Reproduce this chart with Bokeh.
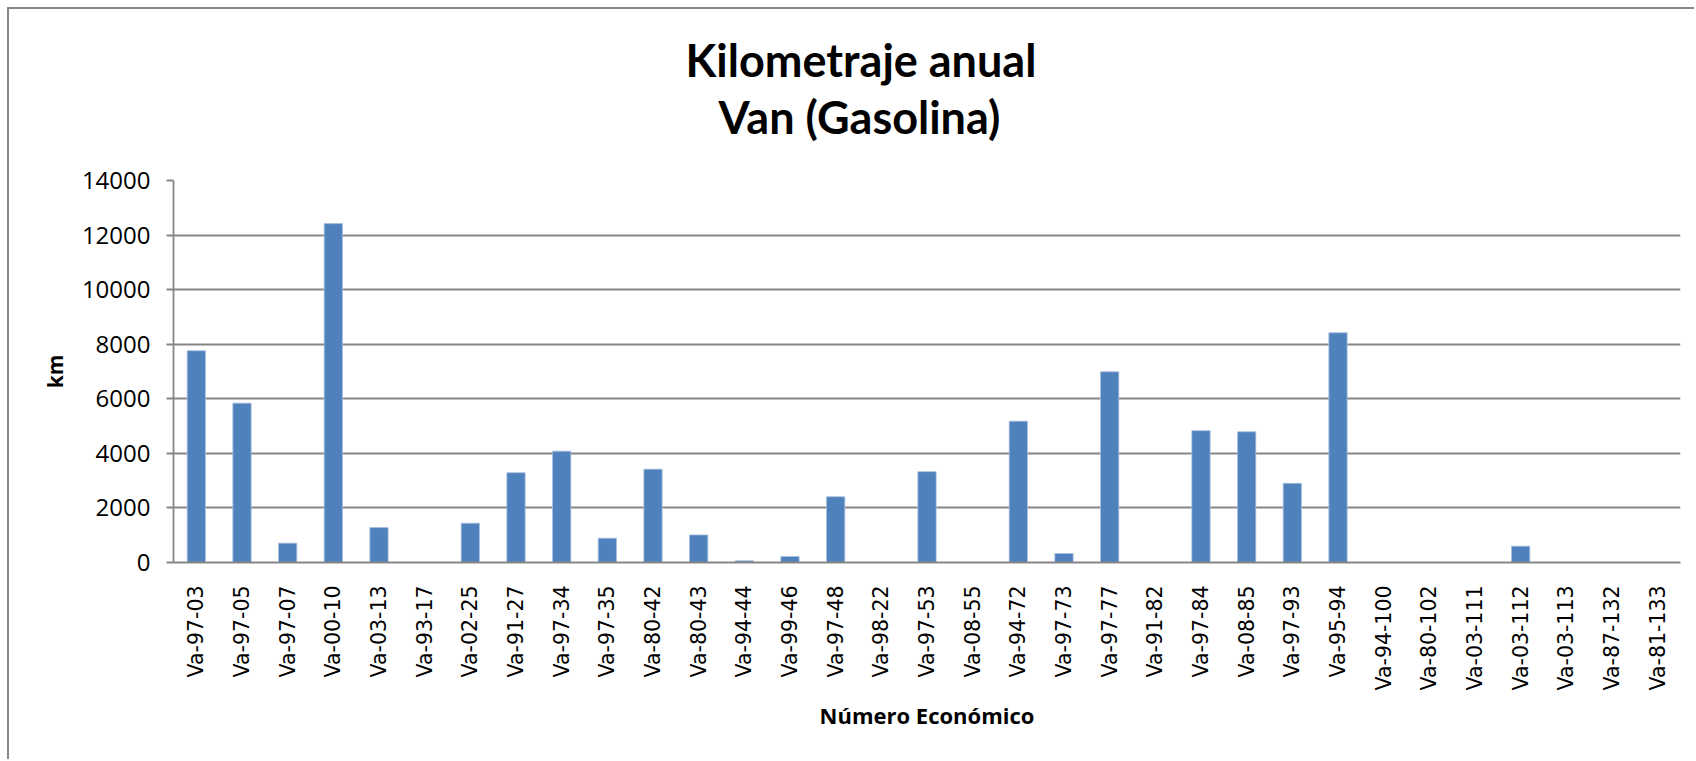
import math
from bokeh.plotting import figure
from bokeh.models import FactorRange, Range1d, FixedTicker, ColumnDataSource, Title
from bokeh.embed import file_html
from bokeh.resources import INLINE

categories = ["Va-97-03", "Va-97-05", "Va-97-07", "Va-00-10", "Va-03-13", "Va-93-17",
              "Va-02-25", "Va-91-27", "Va-97-34", "Va-97-35", "Va-80-42", "Va-80-43",
              "Va-94-44", "Va-99-46", "Va-97-48", "Va-98-22", "Va-97-53", "Va-08-55",
              "Va-94-72", "Va-97-73", "Va-97-77", "Va-91-82", "Va-97-84", "Va-08-85",
              "Va-97-93", "Va-95-94", "Va-94-100", "Va-80-102", "Va-03-111", "Va-03-112",
              "Va-03-113", "Va-87-132", "Va-81-133"]
km = [7760, 5840, 710, 12420, 1280, 0,
      1440, 3290, 4080, 890, 3420, 1010,
      60, 220, 2410, 0, 3330, 0,
      5180, 330, 6990, 0, 4830, 4790,
      2900, 8420, 0, 0, 0, 600,
      0, 0, 0]
y_ticks = [0, 2000, 4000, 6000, 8000, 10000, 12000, 14000]

title_lines = ["Kilometraje anual", "Van (Gasolina)"]
x_title = "Número Económico"
y_title = "km"

GRAY = "#868686"
BAR = "#4F81BD"

source = ColumnDataSource(data=dict(cat=categories, km=km))

p = figure(x_range=FactorRange(factors=categories, range_padding=0),
           y_range=Range1d(0, 14000),
           width=1687, height=752, output_backend="svg", toolbar_location=None,
           min_border_left=164, min_border_right=16, min_border_top=171,
           min_border_bottom=199)
p.styles = {"border-top": f"2px solid {GRAY}", "border-left": f"2px solid {GRAY}",
            "margin-left": "7px", "margin-top": "7px"}
p.outline_line_color = None
p.background_fill_color = "white"
p.border_fill_color = "white"

p.vbar(x="cat", top="km", width=0.4, source=source, fill_color=BAR,
       line_color="#A7BFDE", line_width=0.8)

p.xgrid.visible = False
p.ygrid.grid_line_color = GRAY
p.ygrid.grid_line_width = 1.8

p.yaxis.ticker = FixedTicker(ticks=y_ticks)
p.yaxis.minor_tick_line_color = None
p.yaxis.axis_line_color = GRAY
p.yaxis.axis_line_width = 1.8
p.yaxis.major_tick_line_color = GRAY
p.yaxis.major_tick_line_width = 1.8
p.yaxis.major_tick_out = 7
p.yaxis.major_tick_in = 0
p.yaxis.major_label_standoff = 16
p.yaxis.major_label_text_font = "Open Sans"
p.yaxis.major_label_text_font_size = "24px"
p.yaxis.major_label_text_color = "black"
p.yaxis.axis_label = y_title
p.yaxis.axis_label_text_font = "Open Sans"
p.yaxis.axis_label_text_font_style = "bold"
p.yaxis.axis_label_text_font_size = "21px"
p.yaxis.axis_label_text_color = "black"
p.yaxis.axis_label_standoff = 10

p.xaxis.major_label_orientation = math.pi / 2
p.xaxis.axis_line_color = GRAY
p.xaxis.axis_line_width = 1.8
p.xaxis.major_tick_out = 0
p.xaxis.major_tick_in = 0
p.xaxis.major_tick_line_color = None
p.xaxis.major_label_standoff = 23
p.xaxis.major_label_text_font = "DejaVu Sans"
p.xaxis.major_label_text_font_size = "20.5px"
p.xaxis.major_label_text_color = "black"
p.xaxis.axis_label = x_title
p.xaxis.axis_label_text_font = "Open Sans"
p.xaxis.axis_label_text_font_style = "bold"
p.xaxis.axis_label_text_font_size = "22px"
p.xaxis.axis_label_text_color = "black"
p.xaxis.axis_label_standoff = 6

p.add_layout(Title(text=title_lines[1], align="left", offset=545, standoff=73,
                   text_font="Lato", text_font_style="bold",
                   text_font_size="45px", text_color="black"), "above")
p.add_layout(Title(text=title_lines[0], align="left", offset=512, standoff=-71,
                   text_font="Lato", text_font_style="bold",
                   text_font_size="45px", text_color="black"), "above")

open("out.html", "w").write(file_html(p, INLINE))
